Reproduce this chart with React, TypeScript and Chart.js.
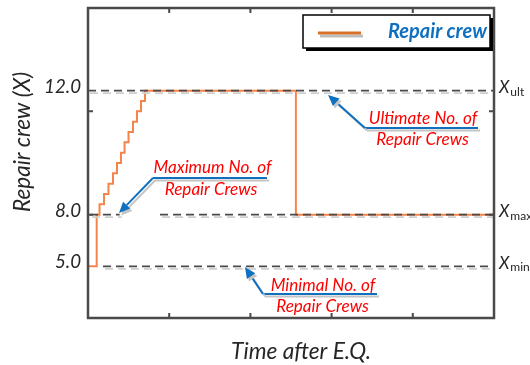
import React, { useEffect, useRef } from 'react';
import { Chart, registerables } from 'chart.js';

Chart.register(...registerables);

// ---- data (x: time after E.Q. in axis units, y: crew level in axis units) ----
const timeAfterEQ = [0, 0.107, 0.142, 0.197, 0.252, 0.308, 0.357, 0.406, 0.45, 0.499, 0.554, 0.603, 0.653, 0.702, 2.56, 5];
const repairCrewLevel = [0.5, 1.0, 1.1, 1.2, 1.3, 1.4, 1.5, 1.6, 1.7, 1.8, 1.9, 2.0, 2.1, 2.2, 1.0, 1.0];

// reference crew levels
const crewLevelValues = [0.5, 1.0, 2.2];
const crewLevelLabels = ['5.0', '8.0', '12.0'];
const crewLevelSubs = ['min', 'max', 'ult'];

// dashed reference segments (x extents)
const minLineX = [0.185, 5];
const maxLineX = [0.025, 0.39, null, 0.887, 5];
const ultLineX = [0, 5];

const xTickValues = [1, 2, 3, 4];
const yTickValues = [1, 2];

const FONT = 'Lato, "Open Sans", sans-serif';
const ORANGE = '#F5844A';
const BLUE = '#1070C0';
const RED = '#FF0000';
const DARK = '#4A4A4A';
const TXT = '#262626';

function fitSize(ctx: CanvasRenderingContext2D, text: string, style: string, target: number) {
  ctx.font = `${style} 20px ${FONT}`;
  const w = ctx.measureText(text).width;
  return (20 * target) / w;
}

function drawArrow(ctx: CanvasRenderingContext2D, x1: number, y1: number, x2: number, y2: number) {
  const ang = Math.atan2(y2 - y1, x2 - x1);
  const head = 11;
  const half = 5;
  const bx = x2 - head * Math.cos(ang);
  const by = y2 - head * Math.sin(ang);
  ctx.beginPath();
  ctx.moveTo(x1, y1);
  ctx.lineTo(bx, by);
  ctx.stroke();
  ctx.beginPath();
  ctx.moveTo(x2, y2);
  ctx.lineTo(bx + half * Math.sin(ang), by - half * Math.cos(ang));
  ctx.lineTo(bx - half * Math.sin(ang), by + half * Math.cos(ang));
  ctx.closePath();
  ctx.fill();
}

const callouts = [
  { line1: 'Maximum No. of', line2: 'Repair Crews', t1: [1.533, 1.452], t2: [1.515, 1.248], ux: [0.8, 2.204], uy: 1.355, tip: [0.382, 1.016] },
  { line1: 'Ultimate No. of', line2: 'Repair Crews', t1: [4.126, 1.935], t2: [4.12, 1.723], ux: [3.411, 4.803], uy: 1.839, tip: [2.956, 2.158] },
  { line1: 'Minimal No. of', line2: 'Repair Crews', t1: [2.894, 0.319], t2: [2.888, 0.116], ux: [2.155, 3.559], uy: 0.232, tip: [1.933, 0.494] },
];

const decorPlugin = {
  id: 'decor',
  beforeDatasetDraw(chart: any, args: any) {
    const ds = chart.data.datasets[args.index];
    if (ds.shadow) {
      const ctx = chart.ctx;
      ctx.save();
      ctx.shadowColor = '#cfcfcf';
      ctx.shadowOffsetX = 2;
      ctx.shadowOffsetY = 2.5;
      ctx.shadowBlur = 0;
    }
  },
  afterDatasetDraw(chart: any, args: any) {
    const ds = chart.data.datasets[args.index];
    if (ds.shadow) chart.ctx.restore();
  },
  afterDraw(chart: any) {
    const ctx: CanvasRenderingContext2D = chart.ctx;
    const xs = chart.scales.x;
    const ys = chart.scales.y;
    const { left, right, top, bottom } = chart.chartArea;
    const X = (v: number) => xs.getPixelForValue(v);
    const Y = (v: number) => ys.getPixelForValue(v);

    // frame
    ctx.save();
    ctx.strokeStyle = DARK;
    ctx.lineWidth = 2.5;
    ctx.strokeRect(left, top, right - left, bottom - top);
    ctx.lineWidth = 2;
    ctx.beginPath();
    xTickValues.forEach((v) => {
      const px = X(v);
      ctx.moveTo(px, bottom);
      ctx.lineTo(px, bottom - 5);
      ctx.moveTo(px, top);
      ctx.lineTo(px, top + 5);
    });
    yTickValues.forEach((v) => {
      const py = Y(v);
      ctx.moveTo(left, py);
      ctx.lineTo(left + 5, py);
      ctx.moveTo(right, py);
      ctx.lineTo(right - 5, py);
    });
    ctx.stroke();
    ctx.restore();

    // left level labels
    ctx.save();
    ctx.fillStyle = TXT;
    const lvSize = fitSize(ctx, '12.0', 'italic', 37);
    ctx.font = `italic ${lvSize}px ${FONT}`;
    ctx.textAlign = 'right';
    ctx.textBaseline = 'middle';
    crewLevelValues.forEach((v, i) => {
      ctx.fillText(crewLevelLabels[i], left - 7, Y(v) - 4);
    });

    // right labels X_sub
    crewLevelValues.forEach((v, i) => {
      ctx.textAlign = 'left';
      ctx.textBaseline = 'middle';
      ctx.font = `italic 17px ${FONT}`;
      const py = Y(v);
      ctx.fillText('X', right + 5, py - 3);
      const w = ctx.measureText('X').width;
      ctx.font = `12px ${FONT}`;
      ctx.fillText(crewLevelSubs[i], right + 5 + w + 1, py + 1);
    });

    // axis titles
    const ytSize = fitSize(ctx, 'Repair crew (X)', 'italic', 140);
    ctx.font = `italic ${ytSize}px ${FONT}`;
    ctx.textAlign = 'center';
    ctx.textBaseline = 'middle';
    ctx.save();
    ctx.translate(23, (top + bottom) / 2 - 21);
    ctx.rotate(-Math.PI / 2);
    ctx.fillText('Repair crew (X)', 0, 0);
    ctx.restore();
    const xtSize = fitSize(ctx, 'Time after E.Q.', 'italic', 140);
    ctx.font = `italic ${xtSize}px ${FONT}`;
    ctx.fillText('Time after E.Q.', (left + right) / 2 + 10, bottom + 34);
    ctx.restore();

    // callouts
    ctx.save();
    const cSize = fitSize(ctx, 'Maximum No. of', 'italic', 118);
    callouts.forEach((c) => {
      ctx.save();
      ctx.shadowColor = '#c4c4c4';
      ctx.shadowOffsetX = 2;
      ctx.shadowOffsetY = 2.5;
      ctx.shadowBlur = 0;
      ctx.strokeStyle = BLUE;
      ctx.fillStyle = BLUE;
      ctx.lineWidth = 2;
      ctx.beginPath();
      ctx.moveTo(X(c.ux[0]), Y(c.uy));
      ctx.lineTo(X(c.ux[1]), Y(c.uy));
      ctx.stroke();
      drawArrow(ctx, X(c.ux[0]), Y(c.uy), X(c.tip[0]), Y(c.tip[1]));
      ctx.restore();
      ctx.fillStyle = RED;
      ctx.font = `italic ${cSize}px ${FONT}`;
      ctx.textAlign = 'center';
      ctx.textBaseline = 'middle';
      ctx.fillText(c.line1, X(c.t1[0]), Y(c.t1[1]));
      ctx.fillText(c.line2, X(c.t2[0]), Y(c.t2[1]));
    });
    ctx.restore();

    // legend
    ctx.save();
    const bx = 303, by = 15, bw = 187, bh = 33;
    ctx.fillStyle = '#000';
    ctx.fillRect(bx + 3, by + 3, bw, bh);
    ctx.fillStyle = '#fff';
    ctx.fillRect(bx, by, bw, bh);
    ctx.strokeStyle = '#000';
    ctx.lineWidth = 1.5;
    ctx.strokeRect(bx, by, bw, bh);
    ctx.shadowColor = '#bdbdbd';
    ctx.shadowOffsetX = 2;
    ctx.shadowOffsetY = 3;
    ctx.strokeStyle = '#D9702A';
    ctx.lineWidth = 3;
    ctx.beginPath();
    ctx.moveTo(318, 33);
    ctx.lineTo(361, 33);
    ctx.stroke();
    ctx.shadowColor = 'transparent';
    const lgSize = fitSize(ctx, 'Repair crew', 'italic bold', 99);
    ctx.font = `italic bold ${lgSize}px ${FONT}`;
    ctx.fillStyle = BLUE;
    ctx.textAlign = 'left';
    ctx.textBaseline = 'middle';
    ctx.fillText('Repair crew', 388, 32);
    ctx.restore();
  },
};

function dashed(xsArr: (number | null)[], y: number) {
  return {
    data: xsArr.map((x, i) => (x === null ? { x: (xsArr[i - 1] as number) + 0.01, y: null } : { x, y })),
    borderColor: DARK,
    borderWidth: 1.6,
    borderDash: [8, 5],
    pointRadius: 0,
    spanGaps: false,
    order: 0,
    shadow: true,
  };
}

export default function App() {
  const ref = useRef<HTMLCanvasElement | null>(null);
  useEffect(() => {
    if (!ref.current) return;
    const chart = new Chart(ref.current, {
      type: 'line',
      data: {
        datasets: [
          {
            data: timeAfterEQ.map((x, i) => ({ x, y: repairCrewLevel[i] })),
            stepped: 'before',
            borderColor: ORANGE,
            borderWidth: 2,
            pointRadius: 0,
            order: 2,
          } as any,
          dashed(ultLineX, crewLevelValues[2]) as any,
          dashed(maxLineX, crewLevelValues[1]) as any,
          dashed(minLineX, crewLevelValues[0]) as any,
        ],
      },
      options: {
        responsive: false,
        animation: false,
        layout: { padding: { left: 88, right: 36, top: 8, bottom: 47 } },
        scales: {
          x: { type: 'linear', min: 0, max: 5, display: false },
          y: { type: 'linear', min: 0, max: 3, display: false },
        },
        plugins: { legend: { display: false }, tooltip: { enabled: false } },
      },
      plugins: [decorPlugin],
    });
    return () => chart.destroy();
  }, []);
  return (
    <div style={{ position: 'fixed', left: 0, top: 0, width: 530, height: 365, background: '#fff' }}>
      <canvas ref={ref} width={530} height={365} />
    </div>
  );
}
